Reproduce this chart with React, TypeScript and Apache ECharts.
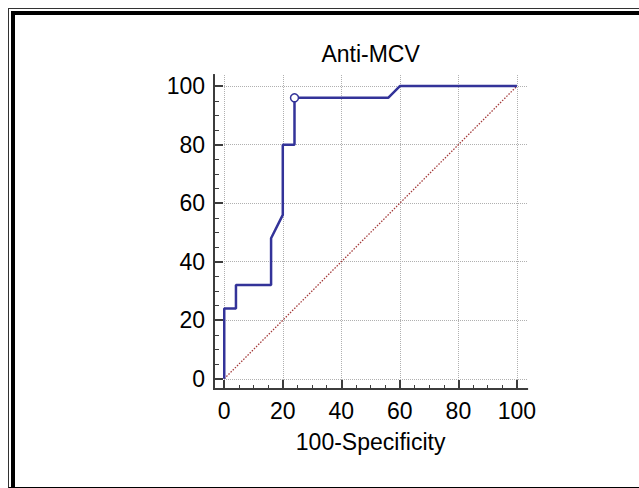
import React, { useEffect, useRef } from 'react';
import * as echarts from 'echarts';

// ---- data ----
const titleText = 'Anti-MCV';
const xAxisName = '100-Specificity';
const majorTicks = [0, 20, 40, 60, 80, 100];
const minorTicks = [0, 5, 10, 15, 20, 25, 30, 35, 40, 45, 50, 55, 60, 65, 70, 75, 80, 85, 90, 95, 100];
const rocX = [0, 0, 4, 4, 16, 16, 20, 20, 24, 24, 56, 60, 100];
const rocY = [0, 24, 24, 32, 32, 48, 56, 80, 80, 96, 96, 100, 100];
const refX = [0, 100];
const refY = [0, 100];
const cutoffX = [24];
const cutoffY = [96];

const FONT = 'Arial, "Liberation Sans", sans-serif';
const AXIS_COLOR = '#3c3c3c';
const ROC_COLOR = '#333399';

function xAxis(major: boolean) {
  return {
    type: 'value',
    min: -3.5,
    max: 103.5,
    position: 'bottom',
    axisLine: { show: true, onZero: false, lineStyle: { color: AXIS_COLOR, width: 2 } },
    axisTick: {
      show: true,
      inside: true,
      length: major ? 9 : 4,
      customValues: major ? majorTicks : minorTicks,
      lineStyle: { color: AXIS_COLOR, width: major ? 2 : 1 },
    },
    axisLabel: {
      show: major,
      customValues: majorTicks,
      margin: 10,
      fontSize: 23,
      color: '#000',
      fontFamily: FONT,
    },
    splitLine: { show: major, lineStyle: { color: '#b0b0b0', type: 'dotted', width: 1 } },
    name: major ? xAxisName : '',
    nameLocation: 'middle',
    nameGap: 41,
    nameTextStyle: { fontSize: 23, color: '#000', fontFamily: FONT },
  };
}

function yAxis(major: boolean) {
  return {
    type: 'value',
    min: -3.5,
    max: 103.8,
    position: 'left',
    axisLine: { show: true, onZero: false, lineStyle: { color: AXIS_COLOR, width: 2 } },
    axisTick: {
      show: true,
      inside: true,
      length: major ? 9 : 5,
      customValues: major ? majorTicks : minorTicks,
      lineStyle: { color: AXIS_COLOR, width: major ? 2 : 1 },
    },
    axisLabel: {
      show: major,
      customValues: majorTicks,
      margin: 9,
      fontSize: 23,
      color: '#000',
      fontFamily: FONT,
    },
    splitLine: { show: major, lineStyle: { color: '#b0b0b0', type: 'dotted', width: 1 } },
  };
}

export default function App() {
  const ref = useRef<HTMLDivElement>(null);
  useEffect(() => {
    if (!ref.current) return;
    const chart = echarts.init(ref.current, null, { renderer: 'svg' });
    const gridLeft = 214;
    const gridRight = 111.8;
    chart.setOption({
      animation: false,
      grid: { left: gridLeft, right: gridRight, top: 75, bottom: 99 },
      graphic: [
        {
          type: 'text',
          x: gridLeft + (639 - gridLeft - gridRight) / 2,
          y: 53.5,
          style: {
            text: titleText,
            align: 'center',
            verticalAlign: 'middle',
            fontSize: 23,
            fontFamily: FONT,
            fill: '#000',
          },
        },
      ],
      xAxis: [xAxis(false), xAxis(true)],
      yAxis: [yAxis(false), yAxis(true)],
      series: [
        {
          type: 'line',
          xAxisIndex: 1,
          yAxisIndex: 1,
          data: refX.map((x, i) => [x, refY[i]]),
          symbol: 'none',
          lineStyle: { color: '#a33a3a', width: 1.3, type: [1.5, 1.5] },
          z: 2,
        },
        {
          type: 'line',
          xAxisIndex: 1,
          yAxisIndex: 1,
          data: rocX.map((x, i) => [x, rocY[i]]),
          symbol: 'none',
          lineStyle: { color: ROC_COLOR, width: 2.5 },
          z: 3,
        },
        {
          type: 'scatter',
          xAxisIndex: 1,
          yAxisIndex: 1,
          data: cutoffX.map((x, i) => [x, cutoffY[i]]),
          symbol: 'circle',
          symbolSize: 8,
          itemStyle: { color: '#fff', borderColor: ROC_COLOR, borderWidth: 1.5, opacity: 1 },
          z: 4,
        },
      ],
    });
    return () => chart.dispose();
  }, []);

  return (
    <div style={{ position: 'absolute', left: 0, top: 0, width: 639, height: 488, overflow: 'hidden', background: '#fff' }}>
      <div
        style={{
          position: 'absolute',
          left: 8,
          top: 8,
          width: 640,
          height: 480,
          boxSizing: 'border-box',
          borderTop: '1px solid #333',
          borderLeft: '1px solid #333',
          borderBottom: '1px solid #000',
        }}
      />
      <div
        style={{
          position: 'absolute',
          left: 11,
          top: 11,
          width: 640,
          height: 480,
          boxSizing: 'border-box',
          borderTop: '4px solid #000',
          borderLeft: '4px solid #000',
        }}
      />
      <div ref={ref} style={{ position: 'absolute', left: 0, top: 0, width: 639, height: 488 }} />
    </div>
  );
}
